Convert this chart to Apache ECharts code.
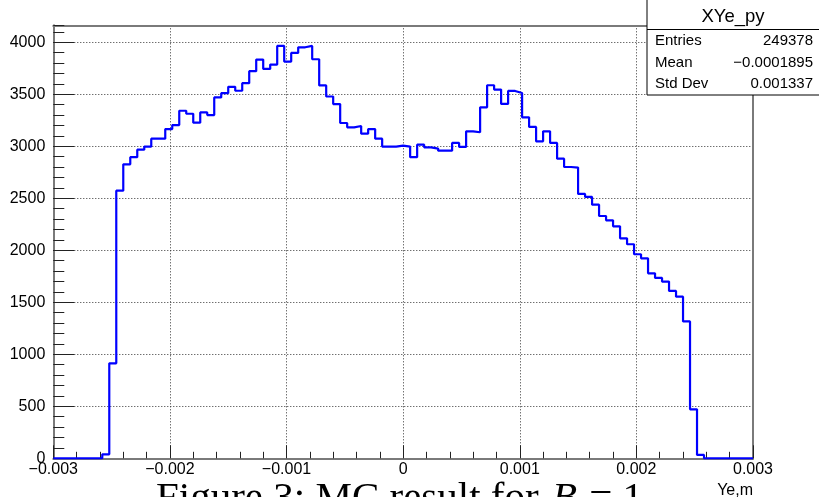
<!DOCTYPE html>
<html>
<head>
<meta charset="utf-8">
<script src="https://cdn.jsdelivr.net/npm/echarts@6/dist/echarts.min.js"></script>
<style>
  html, body { margin: 0; padding: 0; background: #fff; }
  #chart { width: 819px; height: 497px; }
</style>
</head>
<body>
<div id="chart"></div>
<script>
// Histogram XYe_py: 100 bins from -0.003 m to 0.003 m
const histName = 'XYe_py';
const xTitle = 'Ye,m';
const xRange = [-0.003, 0.003];
const nBins = 100;
const counts = [
  0, 0, 0, 0, 0, 0, 0, 38, 913, 2573,
  2827, 2895, 2968, 2997, 3073, 3073, 3166, 3204, 3342, 3313,
  3227, 3326, 3300, 3470, 3511, 3572, 3534, 3607, 3722, 3834,
  3744, 3786, 3965, 3815, 3898, 3952, 3965, 3837, 3585, 3479,
  3406, 3224, 3182, 3195, 3121, 3166, 3073, 2997, 2997, 3006,
  2997, 2895, 3016, 2990, 2978, 2958, 2958, 3032, 2994, 3144,
  3135, 3375, 3587, 3545, 3407, 3532, 3513, 3279, 3186, 3048,
  3144, 3032, 2881, 2801, 2795, 2542, 2513, 2439, 2330, 2288,
  2231, 2115, 2058, 1962, 1923, 1779, 1734, 1699, 1609, 1554,
  1316, 471, 32, 0, 0, 0, 0, 0, 0, 0
];
const yMajorStep = 500;
const yMinorStep = 100;
const xMajorStep = 0.001;
const statLabels = ['Entries', 'Mean', 'Std Dev'];
const statValues = ['249378', '\u22120.0001895', '0.001337'];
const captionParts = ['Figure 3: MC result for ', 'B', ' = 1'];

// y range: 5% headroom above the tallest bin
const yMax = Math.max(...counts) * 1.05;

const binWidth = (xRange[1] - xRange[0]) / nBins;
const stepPoints = counts.map((c, i) => [xRange[0] + i * binWidth, c]);
stepPoints.push([xRange[1], counts[nBins - 1]]);

const FONT = 'Liberation Sans, Arial, Helvetica, sans-serif';
const SERIF = 'Liberation Serif, Times New Roman, serif';
const frameColor = '#7a7a7a';
const tickColor = '#222';
const gridDots = { color: '#333', width: 1, type: [1, 2] };

// plot frame placement
const frameLeft = 53.3, frameRight = 753, frameBottom = 458.3, pxPerCount = 0.104;
const frameTop = frameBottom - yMax * pxPerCount;

function fmtX(v) {
  if (Math.abs(v) < 1e-12) return '0';
  return v.toFixed(3).replace('-', '\u2212');
}

const chart = echarts.init(document.getElementById('chart'), null, { renderer: 'canvas' });

const frameOnly = {
  axisLine: { show: true, onZero: false, lineStyle: { color: frameColor, width: 2 } },
  axisTick: { show: false },
  axisLabel: { show: false },
  splitLine: { show: false },
  minorTick: { show: false }
};

chart.setOption({
  animation: false,
  backgroundColor: '#fff',
  grid: {
    left: frameLeft, right: 819 - frameRight, top: frameTop, bottom: 497 - frameBottom,
    containLabel: false, outerBoundsMode: 'none'
  },
  xAxis: [
    {
      type: 'value', position: 'bottom', min: xRange[0], max: xRange[1], interval: xMajorStep,
      axisLine: { show: true, onZero: false, lineStyle: { color: frameColor, width: 2 } },
      axisTick: { show: true, inside: true, length: 13, lineStyle: { color: tickColor, width: 1 } },
      minorTick: { show: true, splitNumber: 5, length: 6.5, lineStyle: { color: tickColor, width: 1 } },
      axisLabel: { show: true, margin: 3, color: '#000', fontFamily: FONT, fontSize: 16, formatter: fmtX, showMinLabel: true, showMaxLabel: true, hideOverlap: false },
      splitLine: { show: true, lineStyle: gridDots },
      name: xTitle, nameLocation: 'end', nameGap: 0,
      nameTextStyle: { color: '#000', fontFamily: FONT, fontSize: 16, align: 'right', verticalAlign: 'top', padding: [24, 0, 0, 0] }
    },
    Object.assign({ type: 'value', position: 'top', min: xRange[0], max: xRange[1] }, frameOnly)
  ],
  yAxis: [
    {
      type: 'value', position: 'left', min: 0, max: yMax, interval: yMajorStep,
      axisLine: { show: true, onZero: false, lineStyle: { color: frameColor, width: 2 } },
      axisTick: { show: true, inside: true, length: 21, lineStyle: { color: tickColor, width: 1 } },
      minorTick: { show: false },
      axisLabel: {
        show: true, margin: 8, color: '#000', fontFamily: FONT, fontSize: 16, showMaxLabel: false,
        formatter: v => (v % yMajorStep === 0 ? String(v) : '')
      },
      splitLine: { show: true, lineStyle: gridDots }
    },
    Object.assign({ type: 'value', position: 'right', min: 0, max: yMax }, frameOnly),
    {
      type: 'value', position: 'left', offset: 0, min: 0, max: yMax, interval: yMinorStep,
      axisLine: { show: false, onZero: false },
      axisTick: { show: true, inside: true, length: 11, lineStyle: { color: tickColor, width: 1 } },
      axisLabel: { show: false },
      splitLine: { show: false },
      minorTick: { show: false }
    }
  ],
  series: [{
    name: histName,
    type: 'line',
    step: 'end',
    xAxisIndex: 0,
    yAxisIndex: 0,
    data: stepPoints,
    symbol: 'none',
    lineStyle: { color: '#0000ff', width: 2.2 },
    clip: true,
    z: 5
  }],
  graphic: [
    // statistics box
    { type: 'rect', z: 100, shape: { x: 647, y: -2, width: 190, height: 97 },
      style: { fill: '#fff', stroke: '#000', lineWidth: 1 } },
    { type: 'line', z: 101, shape: { x1: 647, y1: 29.5, x2: 819, y2: 29.5 },
      style: { stroke: '#000', lineWidth: 1 } },
    { type: 'text', z: 102, x: 733, y: 17, style: { text: histName, fill: '#000', font: '18.5px ' + FONT, textAlign: 'center', textVerticalAlign: 'middle' } },
    ...statLabels.map((t, i) => ({
      type: 'text', z: 102, x: 655, y: 41 + i * 21.5,
      style: { text: t, fill: '#000', font: '15px ' + FONT, textAlign: 'left', textVerticalAlign: 'middle' }
    })),
    ...statValues.map((t, i) => ({
      type: 'text', z: 102, x: 813, y: 41 + i * 21.5,
      style: { text: t, fill: '#000', font: '15px ' + FONT, textAlign: 'right', textVerticalAlign: 'middle' }
    })),
    // figure caption below the plot
    { type: 'text', z: 102, x: 156, y: 499,
      style: {
        text: '{n|' + captionParts[0] + '}{i|' + captionParts[1] + '}{n|' + captionParts[2] + '}',
        textAlign: 'left', textVerticalAlign: 'middle',
        rich: {
          n: { fontFamily: SERIF, fontSize: 41, fill: '#000', lineHeight: 42 },
          i: { fontFamily: SERIF, fontSize: 41, fontStyle: 'italic', fill: '#000', lineHeight: 42, padding: [0, 2, 0, 3] }
        }
      } }
  ]
});
</script>
</body>
</html>
